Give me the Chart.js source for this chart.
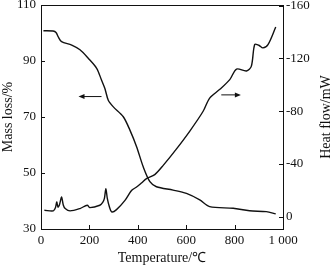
<!DOCTYPE html>
<html>
<head>
<meta charset="utf-8">
<script src="https://cdn.jsdelivr.net/npm/chart.js@4"></script>
<style>
  html, body { margin: 0; background: #fff; }
  #wrap { width: 332px; height: 267px; }
</style>
</head>
<body>
<div id="wrap"><canvas id="myChart"></canvas></div>
<script>
// Mass loss curve (left axis)
const massTemp = [10, 50, 62, 72, 85, 127, 161, 195, 230, 250, 264, 278, 298, 340, 367, 395, 422, 450, 477, 546, 601, 656, 697, 794, 862, 931, 970];
const massLoss = [100.8, 100.7, 100.2, 98.5, 96.9, 95.7, 94, 91, 87.4, 83.2, 80.2, 76, 73.7, 70.1, 65.4, 59.4, 52.3, 46.9, 45.1, 43.9, 42.7, 40.4, 38, 37.4, 36.5, 36.2, 35.4];

// Heat flow curve (right axis)
const heatTemp = [14, 51, 60, 65, 70, 76, 85, 92, 100, 120, 161, 191, 202, 243, 255, 262, 268, 274, 282, 292, 312, 347, 374, 395, 415, 436, 470, 505, 560, 615, 670, 697, 739, 780, 808, 849, 869, 883, 900, 917, 938, 970];
const heatFlow = [-5, -4.5, -7, -11.3, -7.5, -9, -15, -9, -6.3, -4.5, -6.3, -8.8, -7, -8.8, -11, -14, -21.3, -14, -8, -3.8, -5.5, -12.5, -20, -22.6, -25.6, -28.9, -32, -39, -51.5, -65, -80, -90, -96.6, -104, -112, -110.5, -114, -130.5, -130, -128, -130.5, -143.8];

const tempTicks = [0, 200, 400, 600, 800, 1000];
const massTicks = [30, 50, 70, 90, 110];
const heatTicks = [-160, -120, -80, -40, 0];

// arrows pointing to the axis each curve belongs to (data units)
const arrows = [
  { axis: 'y', x1: 250, x2: 155, y: 77.3 },
  { axis: 'y2', x1: 745, x2: 826, y: -92.4 }
];

const serif = 'Liberation Serif';

const frame = {
  id: 'frame',
  afterDatasetsDraw(chart) {
    const ctx = chart.ctx;
    const a = chart.chartArea;
    const xs = chart.scales.x;
    ctx.save();
    ctx.strokeStyle = '#111';
    ctx.lineWidth = 1;
    ctx.beginPath();
    ctx.moveTo(a.left, a.top + 0.5);
    ctx.lineTo(a.right, a.top + 0.5);
    // inward tick marks
    xs.ticks.forEach(t => {
      const px = Math.round(xs.getPixelForValue(t.value)) + 0.5;
      ctx.moveTo(px, a.bottom);
      ctx.lineTo(px, a.bottom - 4);
    });
    chart.scales.y.ticks.forEach(t => {
      const py = Math.round(chart.scales.y.getPixelForValue(t.value)) + 0.5;
      ctx.moveTo(a.left, py);
      ctx.lineTo(a.left + 4, py);
    });
    chart.scales.y2.ticks.forEach(t => {
      const py = Math.round(chart.scales.y2.getPixelForValue(t.value)) + 0.5;
      ctx.moveTo(a.right, py);
      ctx.lineTo(a.right - 4, py);
    });
    ctx.stroke();

    // arrows
    ctx.fillStyle = '#111';
    arrows.forEach(ar => {
      const ys = chart.scales[ar.axis];
      const p1 = xs.getPixelForValue(ar.x1);
      const p2 = xs.getPixelForValue(ar.x2);
      const py = ys.getPixelForValue(ar.y);
      const dir = p2 > p1 ? 1 : -1;
      ctx.beginPath();
      ctx.moveTo(p1, py);
      ctx.lineTo(p2 - dir * 4, py);
      ctx.stroke();
      ctx.beginPath();
      ctx.moveTo(p2, py);
      ctx.lineTo(p2 - dir * 6, py - 2.5);
      ctx.lineTo(p2 - dir * 6, py + 2.5);
      ctx.closePath();
      ctx.fill();
    });

    // right axis title, reading bottom to top
    ctx.font = '14px "' + serif + '"';
    ctx.textAlign = 'center';
    ctx.textBaseline = 'middle';
    ctx.translate(326, (a.top + a.bottom) / 2);
    ctx.rotate(-Math.PI / 2);
    ctx.fillText('Heat flow/mW', 0, 0);
    ctx.restore();
  }
};

const fitY = w => s => {
  s.width = w;
  s.paddingTop = 0;
  s.paddingBottom = 0;
};

const ctx = document.getElementById('myChart').getContext('2d');
const myChart = new Chart(ctx, {
  type: 'line',
  data: {
    datasets: [{
      label: 'Mass loss',
      data: massTemp.map((t, i) => ({ x: t, y: massLoss[i] })),
      yAxisID: 'y',
      borderColor: '#111',
      borderWidth: 1.4,
      pointRadius: 0,
      tension: 0.3,
      fill: false
    }, {
      label: 'Heat flow',
      data: heatTemp.map((t, i) => ({ x: t, y: heatFlow[i] })),
      yAxisID: 'y2',
      borderColor: '#111',
      borderWidth: 1.4,
      pointRadius: 0,
      tension: 0.3,
      fill: false
    }]
  },
  options: {
    responsive: true,
    maintainAspectRatio: false,
    animation: false,
    layout: { padding: { top: 5, right: 0, left: 0, bottom: 0 } },
    plugins: { legend: { display: false }, tooltip: { enabled: false } },
    scales: {
      x: {
        type: 'linear',
        min: 0,
        max: 1000,
        afterBuildTicks: s => { s.ticks = tempTicks.map(v => ({ value: v })); },
        afterFit: s => { s.height = 38; },
        grid: { display: false, drawTicks: false },
        border: { display: true, color: '#111', width: 1 },
        ticks: {
          color: '#111', padding: 4, maxRotation: 0,
          font: { family: serif, size: 13 },
          callback: v => v === 1000 ? '1 000' : String(v)
        },
        title: {
          display: true, text: 'Temperature/℃', color: '#111',
          font: { family: serif, size: 14 }, padding: 0
        }
      },
      y: {
        position: 'left',
        min: 30,
        max: 110,
        afterBuildTicks: s => { s.ticks = massTicks.map(v => ({ value: v })); },
        afterFit: fitY(41),
        grid: { display: false, drawTicks: false },
        border: { display: true, color: '#111', width: 1 },
        ticks: { color: '#111', padding: 5, font: { family: serif, size: 13 } },
        title: {
          display: true, text: 'Mass loss/%', color: '#111',
          font: { family: serif, size: 14 }, padding: 0
        }
      },
      y2: {
        position: 'right',
        reverse: true,
        min: -160.5,
        max: 9.2,
        afterBuildTicks: s => { s.ticks = heatTicks.map(v => ({ value: v })); },
        afterFit: fitY(49),
        grid: { display: false, drawTicks: false },
        border: { display: true, color: '#111', width: 1 },
        ticks: { color: '#111', padding: 3, font: { family: serif, size: 13 } }
      }
    }
  },
  plugins: [frame]
});
</script>
</body>
</html>
